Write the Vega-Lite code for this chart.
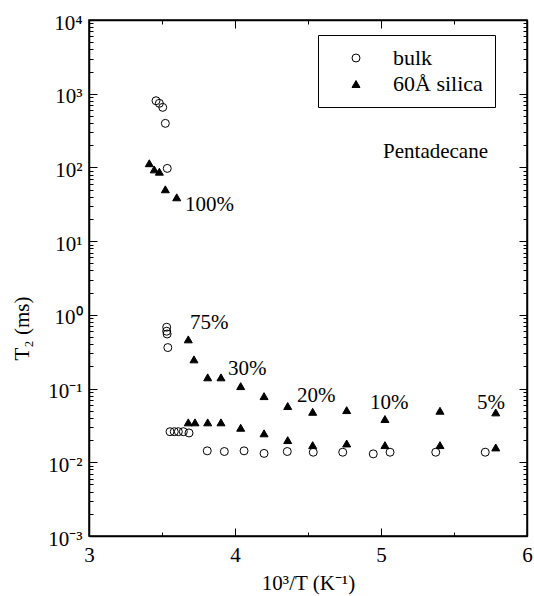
{
  "$schema": "https://vega.github.io/schema/vega-lite/v6.json",
  "autosize": "none",
  "width": 438,
  "height": 516,
  "padding": {"left": 89, "top": 20, "right": 7, "bottom": 60},
  "background": "white",
  "config": {
    "font": "Times New Roman, Liberation Serif, serif",
    "view": {"stroke": "black", "strokeWidth": 1.5},
    "text": {"font": "Times New Roman, Liberation Serif, serif"},
    "axis": {
      "domainColor": "black", "domainWidth": 1.5, "tickColor": "black", "tickWidth": 1,
      "labelFont": "Times New Roman, Liberation Serif, serif", "labelFontSize": 21, "labelColor": "black",
      "titleFont": "Times New Roman, Liberation Serif, serif", "titleFontSize": 21, "titleColor": "black", "titleFontWeight": "normal",
      "grid": false, "labelFlush": false, "labelOverlap": false, "labelBound": false
    },
    "legend": {
      "labelFont": "Times New Roman, Liberation Serif, serif", "labelFontSize": 22, "labelColor": "black",
      "symbolStrokeColor": "black", "symbolStrokeWidth": 1
    }
  },
  "datasets": {
    "pts": [
      {"series": "bulk", "x": 3.459, "y": 803},
      {"series": "bulk", "x": 3.482, "y": 741},
      {"series": "bulk", "x": 3.505, "y": 653},
      {"series": "bulk", "x": 3.523, "y": 396},
      {"series": "bulk", "x": 3.536, "y": 97},
      {"series": "bulk", "x": 3.532, "y": 0.68},
      {"series": "bulk", "x": 3.532, "y": 0.60},
      {"series": "bulk", "x": 3.535, "y": 0.55},
      {"series": "bulk", "x": 3.540, "y": 0.36},
      {"series": "bulk", "x": 3.555, "y": 0.026},
      {"series": "bulk", "x": 3.584, "y": 0.026},
      {"series": "bulk", "x": 3.612, "y": 0.026},
      {"series": "bulk", "x": 3.646, "y": 0.026},
      {"series": "bulk", "x": 3.685, "y": 0.025},
      {"series": "bulk", "x": 3.810, "y": 0.0143},
      {"series": "bulk", "x": 3.927, "y": 0.0140},
      {"series": "bulk", "x": 4.062, "y": 0.0143},
      {"series": "bulk", "x": 4.199, "y": 0.0132},
      {"series": "bulk", "x": 4.358, "y": 0.0140},
      {"series": "bulk", "x": 4.536, "y": 0.0137},
      {"series": "bulk", "x": 4.738, "y": 0.0137},
      {"series": "bulk", "x": 4.947, "y": 0.0130},
      {"series": "bulk", "x": 5.062, "y": 0.0137},
      {"series": "bulk", "x": 5.375, "y": 0.0137},
      {"series": "bulk", "x": 5.714, "y": 0.0137},
      {"series": "60Å silica", "x": 3.413, "y": 114},
      {"series": "60Å silica", "x": 3.447, "y": 94},
      {"series": "60Å silica", "x": 3.482, "y": 87.5},
      {"series": "60Å silica", "x": 3.523, "y": 50.5},
      {"series": "60Å silica", "x": 3.601, "y": 39.3},
      {"series": "60Å silica", "x": 3.680, "y": 0.465},
      {"series": "60Å silica", "x": 3.719, "y": 0.249},
      {"series": "60Å silica", "x": 3.813, "y": 0.142},
      {"series": "60Å silica", "x": 3.904, "y": 0.142},
      {"series": "60Å silica", "x": 4.039, "y": 0.108},
      {"series": "60Å silica", "x": 4.199, "y": 0.079},
      {"series": "60Å silica", "x": 4.361, "y": 0.058},
      {"series": "60Å silica", "x": 4.532, "y": 0.0484},
      {"series": "60Å silica", "x": 4.765, "y": 0.051},
      {"series": "60Å silica", "x": 5.027, "y": 0.0386},
      {"series": "60Å silica", "x": 5.404, "y": 0.050},
      {"series": "60Å silica", "x": 5.786, "y": 0.0475},
      {"series": "60Å silica", "x": 3.680, "y": 0.0348},
      {"series": "60Å silica", "x": 3.726, "y": 0.0348},
      {"series": "60Å silica", "x": 3.813, "y": 0.0348},
      {"series": "60Å silica", "x": 3.904, "y": 0.0348},
      {"series": "60Å silica", "x": 4.039, "y": 0.0294},
      {"series": "60Å silica", "x": 4.199, "y": 0.0247},
      {"series": "60Å silica", "x": 4.361, "y": 0.020},
      {"series": "60Å silica", "x": 4.532, "y": 0.0171},
      {"series": "60Å silica", "x": 4.765, "y": 0.018},
      {"series": "60Å silica", "x": 5.027, "y": 0.0171},
      {"series": "60Å silica", "x": 5.404, "y": 0.0171},
      {"series": "60Å silica", "x": 5.786, "y": 0.0159}
    ],
    "labels": [
      {"label": "100%", "x": 3.658, "y": 30.9},
      {"label": "75%", "x": 3.692, "y": 0.78},
      {"label": "30%", "x": 3.952, "y": 0.184},
      {"label": "20%", "x": 4.425, "y": 0.079},
      {"label": "10%", "x": 4.925, "y": 0.0635},
      {"label": "5%", "x": 5.658, "y": 0.0635},
      {"label": "Pentadecane", "x": 5.014, "y": 162}
    ]
  },
  "layer": [
    {
      "data": {"name": "pts"},
      "mark": {"type": "point", "filled": true, "strokeWidth": 1, "size": 64, "opacity": 1},
      "encoding": {
        "x": {"field": "x", "type": "quantitative",
              "scale": {"domain": [3, 6], "nice": false, "zero": false},
              "axis": {"orient": "bottom", "values": [3, 4, 5, 6], "tickSize": -8, "labelPadding": 16, "labelAngle": 0,
                       "title": "10³/T (K⁻¹)", "titlePadding": 7, "domain": true}},
        "y": {"field": "y", "type": "quantitative",
              "scale": {"type": "log", "domain": [0.001, 10000], "nice": false},
              "axis": {"orient": "left", "values": [0.001, 0.01, 0.1, 1, 10, 100, 1000, 10000], "tickSize": -8, "labelPadding": 15,
                       "labelBaseline": "middle", "labelAlign": "right", "labelOffset": 3,
                       "labelExpr": "'10' + ['⁻³','⁻²','⁻¹','⁰','¹','²','³','⁴'][round(log(datum.value)/LN10)+3]",
                       "title": "T₂ (ms)", "titleAngle": -90, "titleX": -67, "titleY": 308, "titleAlign": "center", "titleBaseline": "middle"}},
        "shape": {"field": "series", "type": "nominal",
                  "scale": {"domain": ["bulk", "60Å silica"], "range": ["circle", "triangle-up"]},
                  "legend": {"title": null, "orient": "none", "legendX": 229, "legendY": 15, "strokeColor": "black", "fillColor": "white",
                             "padding": 12, "symbolOffset": 15, "labelOffset": 26, "rowPadding": 4, "symbolSize": 64, "symbolStrokeColor": "black", "symbolStrokeWidth": 1}},
        "fill": {"field": "series", "type": "nominal",
                 "scale": {"domain": ["bulk", "60Å silica"], "range": ["transparent", "black"]},
                 "legend": {"title": null, "orient": "none", "legendX": 229, "legendY": 15}},
        "stroke": {"field": "series", "type": "nominal",
                 "scale": {"domain": ["bulk", "60Å silica"], "range": ["black", "black"]},
                 "legend": {"title": null, "orient": "none", "legendX": 229, "legendY": 15}}
      }
    },
    {
      "data": {"name": "labels"},
      "mark": {"type": "text", "align": "left", "baseline": "middle", "font": "Times New Roman, Liberation Serif, serif", "fontSize": 21, "color": "black"},
      "encoding": {
        "x": {"field": "x", "type": "quantitative",
              "axis": {"orient": "bottom", "values": [3.5, 4.5, 5.5], "tickSize": -4, "labels": false, "domain": false, "title": null}},
        "y": {"field": "y", "type": "quantitative",
              "axis": {"orient": "left", "values": [0.002,0.003,0.004,0.005,0.006,0.007,0.008,0.009,0.02,0.03,0.04,0.05,0.06,0.07,0.08,0.09,0.2,0.3,0.4,0.5,0.6,0.7,0.8,0.9,2,3,4,5,6,7,8,9,20,30,40,50,60,70,80,90,200,300,400,500,600,700,800,900,2000,3000,4000,5000,6000,7000,8000,9000],
                       "tickSize": -4, "labels": false, "domain": false, "title": null}},
        "text": {"field": "label", "type": "nominal"}
      }
    },
    {
      "data": {"name": "pts"},
      "mark": {"type": "point", "opacity": 0},
      "encoding": {
        "x": {"field": "x", "type": "quantitative",
              "axis": {"orient": "top", "values": [3, 4, 5, 6], "tickSize": -8, "labels": false, "title": null}},
        "y": {"field": "y", "type": "quantitative",
              "axis": {"orient": "right", "values": [0.001, 0.01, 0.1, 1, 10, 100, 1000, 10000], "tickSize": -8, "labels": false, "title": null}}
      }
    },
    {
      "data": {"name": "pts"},
      "mark": {"type": "point", "opacity": 0},
      "encoding": {
        "x": {"field": "x", "type": "quantitative",
              "axis": {"orient": "top", "values": [3.5, 4.5, 5.5], "tickSize": -4, "labels": false, "domain": false, "title": null}},
        "y": {"field": "y", "type": "quantitative",
              "axis": {"orient": "right", "values": [0.002,0.003,0.004,0.005,0.006,0.007,0.008,0.009,0.02,0.03,0.04,0.05,0.06,0.07,0.08,0.09,0.2,0.3,0.4,0.5,0.6,0.7,0.8,0.9,2,3,4,5,6,7,8,9,20,30,40,50,60,70,80,90,200,300,400,500,600,700,800,900,2000,3000,4000,5000,6000,7000,8000,9000],
                       "tickSize": -4, "labels": false, "domain": false, "title": null}}
      }
    }
  ],
  "resolve": {"axis": {"x": "independent", "y": "independent"}}
}
